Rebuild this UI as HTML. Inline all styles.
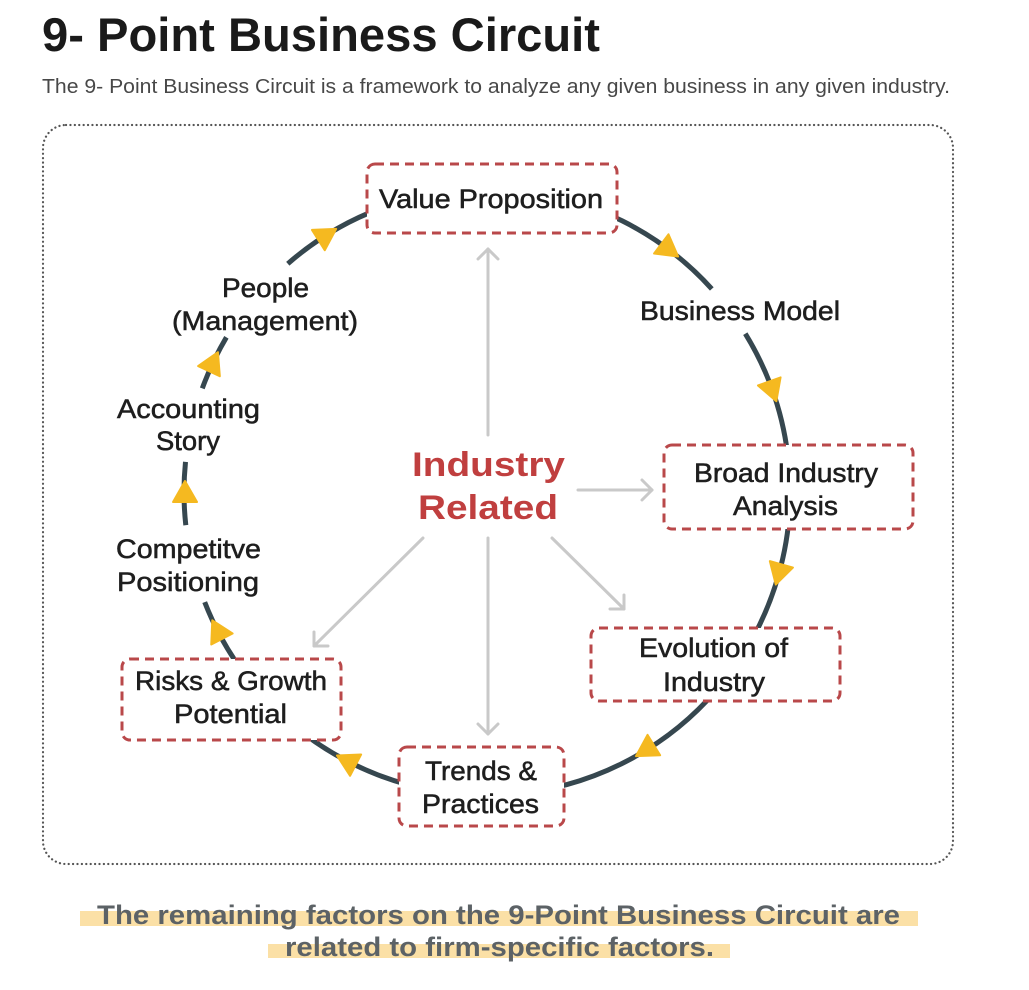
<!DOCTYPE html>
<html><head><meta charset="utf-8"><style>
html,body{margin:0;padding:0;background:#fff;}
svg{display:block;}
.lbl{font-family:"Liberation Sans",Arial,sans-serif;font-size:27px;fill:#1e1e1e;stroke:#1e1e1e;stroke-width:0.55px;}
</style></head><body>
<svg width="1029" height="990" viewBox="0 0 1029 990" xmlns="http://www.w3.org/2000/svg">
<rect width="1029" height="990" fill="#fff"/>
<!-- Title -->
<text x="42" y="51" font-family="Liberation Sans, Arial, sans-serif" font-weight="bold" font-size="47" fill="#1a1a1a" textLength="558" lengthAdjust="spacingAndGlyphs">9- Point Business Circuit</text>
<text x="42" y="93" font-family="Liberation Sans, Arial, sans-serif" font-size="20" fill="#484848" textLength="908" lengthAdjust="spacingAndGlyphs">The 9- Point Business Circuit is a framework to analyze any given business in any given industry.</text>

<!-- dotted container -->
<rect x="43" y="125" width="910" height="739" rx="23" ry="23" fill="none" stroke="#555" stroke-width="2.2" stroke-dasharray="0.1 4.3" stroke-linecap="round"/>

<!-- circle arcs -->
<g fill="none" stroke="#36474f" stroke-width="5">
<path d="M745.3 333.7 A303 303 0 1 1 204.7 602.1"/>
<path d="M185.8 525.2 A303 303 0 0 1 185.5 461.9"/>
<path d="M202.3 388.4 A303 303 0 0 1 226.4 337.3"/>
<path d="M287.8 263.7 A303 303 0 0 1 711.8 288.9"/>
</g>

<!-- gray arrows -->
<g fill="none" stroke="#c9c9c9" stroke-width="3" stroke-linecap="round" stroke-linejoin="round">
<line x1="488" y1="435" x2="488" y2="249"/>
<polyline points="478,259 488,249 498,259"/>
<line x1="578" y1="490" x2="652" y2="490"/>
<polyline points="642,480 652,490 642,500"/>
<line x1="552" y1="538" x2="624" y2="609"/>
<polyline points="610,609 624,609 624,595"/>
<line x1="488" y1="538" x2="488" y2="734"/>
<polyline points="478,724 488,734 498,724"/>
<line x1="423" y1="538" x2="314" y2="646"/>
<polyline points="314,632 314,646 328,646"/>
</g>

<!-- yellow arrowheads -->
<g fill="#f5b920" stroke="#f5b920" stroke-width="2" stroke-linejoin="round">
<polygon points="12,0 -9,-12 -9,12" transform="translate(668.5 249.3) rotate(36.8)"/>
<polygon points="12,0 -9,-12 -9,12" transform="translate(772.3 389.9) rotate(70.3)"/>
<polygon points="12,0 -9,-12 -9,12" transform="translate(779 573) rotate(105.5)"/>
<polygon points="12,0 -9,-12 -9,12" transform="translate(646.2 749.8) rotate(148.3)"/>
<polygon points="12,0 -9,-12 -9,12" transform="translate(347.6 761) rotate(207.4)"/>
<polygon points="12,0 -9,-12 -9,12" transform="translate(217.8 631) rotate(242.7)"/>
<polygon points="12,0 -9,-12 -9,12" transform="translate(185 493) rotate(269.8)"/>
<polygon points="12,0 -9,-12 -9,12" transform="translate(212.8 363) rotate(295.2)"/>
<polygon points="12,0 -9,-12 -9,12" transform="translate(326 235.3) rotate(327.9)"/>
</g>

<!-- dashed boxes -->
<g fill="#fff" stroke="#b9484a" stroke-width="3" stroke-dasharray="9 6">
<rect x="367" y="164" width="250" height="69" rx="8"/>
<rect x="664" y="445" width="249" height="84" rx="8"/>
<rect x="591" y="628" width="249" height="73" rx="8"/>
<rect x="399" y="747" width="165" height="79" rx="8"/>
<rect x="122" y="659" width="219" height="81" rx="8"/>
</g>

<!-- labels -->
<text class="lbl" x="379" y="208" textLength="224" lengthAdjust="spacingAndGlyphs">Value Proposition</text>
<text class="lbl" x="640" y="320" textLength="200" lengthAdjust="spacingAndGlyphs">Business Model</text>
<text class="lbl" x="694" y="482" textLength="184" lengthAdjust="spacingAndGlyphs">Broad Industry</text>
<text class="lbl" x="733" y="515" textLength="105" lengthAdjust="spacingAndGlyphs">Analysis</text>
<text class="lbl" x="639" y="657" textLength="149" lengthAdjust="spacingAndGlyphs">Evolution of</text>
<text class="lbl" x="663" y="691" textLength="102" lengthAdjust="spacingAndGlyphs">Industry</text>
<text class="lbl" x="425" y="780" textLength="112" lengthAdjust="spacingAndGlyphs">Trends &amp;</text>
<text class="lbl" x="422" y="813" textLength="117" lengthAdjust="spacingAndGlyphs">Practices</text>
<text class="lbl" x="135" y="690" textLength="192" lengthAdjust="spacingAndGlyphs">Risks &amp; Growth</text>
<text class="lbl" x="174" y="723" textLength="113" lengthAdjust="spacingAndGlyphs">Potential</text>
<text class="lbl" x="116" y="558" textLength="145" lengthAdjust="spacingAndGlyphs">Competitve</text>
<text class="lbl" x="117" y="591" textLength="142" lengthAdjust="spacingAndGlyphs">Positioning</text>
<text class="lbl" x="117" y="418" textLength="143" lengthAdjust="spacingAndGlyphs">Accounting</text>
<text class="lbl" x="156" y="450" textLength="64" lengthAdjust="spacingAndGlyphs">Story</text>
<text class="lbl" x="222" y="297" textLength="87" lengthAdjust="spacingAndGlyphs">People</text>
<text class="lbl" x="172" y="330" textLength="186" lengthAdjust="spacingAndGlyphs">(Management)</text>

<!-- center label -->
<text x="412" y="476" font-family="Liberation Sans, Arial, sans-serif" font-weight="bold" font-size="34" fill="#c03f3f" textLength="153" lengthAdjust="spacingAndGlyphs">Industry</text>
<text x="418" y="519" font-family="Liberation Sans, Arial, sans-serif" font-weight="bold" font-size="34" fill="#c03f3f" textLength="140" lengthAdjust="spacingAndGlyphs">Related</text>

<!-- bottom highlight -->
<rect x="80" y="911" width="838" height="15" fill="#fbe0a6"/>
<rect x="268" y="944" width="462" height="14" fill="#fbe0a6"/>
<text x="97" y="924" font-family="Liberation Sans, Arial, sans-serif" font-weight="bold" font-size="27" fill="#5c6266" textLength="803" lengthAdjust="spacingAndGlyphs">The remaining factors on the 9-Point Business Circuit are</text>
<text x="285" y="956" font-family="Liberation Sans, Arial, sans-serif" font-weight="bold" font-size="27" fill="#5c6266" textLength="429" lengthAdjust="spacingAndGlyphs">related to firm-specific factors.</text>
</svg>
</body></html>
